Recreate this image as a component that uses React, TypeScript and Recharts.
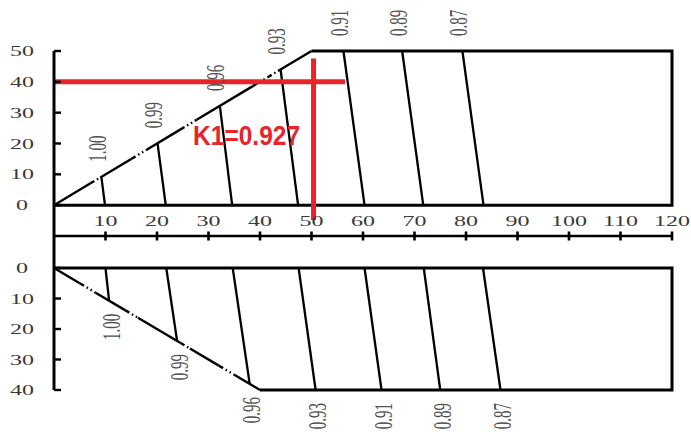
import React from 'react';
import { ComposedChart, Line, XAxis, YAxis, Scatter } from 'recharts';

// K1 curve labels
const kLabels = ['1.00', '0.99', '0.96', '0.93', '0.91', '0.89', '0.87'];
// upper nomogram: curve end points (upper end on the slanted/top edge, lower end on y=0)
const topUpperX = [9.2, 20.1, 32.2, 44, 56.2, 67.6, 79.3];
const topUpperY = [9.2, 20.1, 32.2, 44, 50, 50, 50];
const topLowerX = [9.9, 21.7, 34.6, 47.4, 60.3, 71.7, 83.4];
// lower nomogram: curve end points (upper end on y=0, lower end on slanted/bottom edge)
const bottomUpperX = [10.0, 21.8, 34.7, 47.5, 60.3, 71.8, 83.3];
const bottomLowerX = [10.7, 23.9, 38, 50.8, 63.6, 75.0, 86.7];
const bottomLowerY = [10.7, 23.9, 38, 40, 40, 40, 40];

// axes
const topYTicks = [0, 10, 20, 30, 40, 50];
const bottomYTicks = [0, 10, 20, 30, 40];
const xTicks = [10, 20, 30, 40, 50, 60, 70, 80, 90, 100, 110, 120];

// outlines
const topOutline = [{ x: 50, y: 50 }, { x: 120, y: 50 }, { x: 120, y: 0 }, { x: 0, y: 0 }];
const bottomOutline = [{ x: 40, y: 40 }, { x: 120, y: 40 }, { x: 120, y: 0 }, { x: 0, y: 0 }];
// slanted edge (y = x) with dash-dot stretches
const topDiagEnd = 50;
const topDiagDash = [[7, 9], [15, 18], [24.5, 27.7], [38.6, 43.5]];
const bottomDiagEnd = 40;
const bottomDiagDash = [[5, 8], [13.8, 16.3], [24.5, 26.4], [32, 35]];

// reading lines (red)
const readingVertical = [{ x: 50.4, y: 47.6 }, { x: 50.4, y: -4.8 }];
const readingHorizontal = [{ x: 0, y: 40 }, { x: 56.5, y: 40 }];
const annotation = [{ x: 27, y: 19.5, text: 'K1=0.927' }];

const RED = '#E8232A';
const SERIF = "'Liberation Serif', 'DejaVu Serif', serif";

function diagSegments(end: number, dashes: number[][]) {
  const solid: number[][] = [];
  let prev = 0;
  dashes.forEach(([a, b]) => {
    solid.push([prev, a]);
    prev = b;
  });
  solid.push([prev, end]);
  return solid;
}

function seg(key: string, data: { x: number; y: number }[], stroke: string, width: number, dash?: string) {
  return (
    <Line
      key={key}
      data={data}
      dataKey="y"
      type="linear"
      stroke={stroke}
      strokeWidth={width}
      strokeDasharray={dash}
      dot={false}
      activeDot={false}
      legendType="none"
      isAnimationActive={false}
    />
  );
}

const XTick = (props: any) => {
  const { x, y, payload } = props;
  return (
    <g>
      <line x1={x} x2={x} y1={y - 4.5} y2={y + 4.5} stroke="#000" strokeWidth={2.6} />
      <text
        transform={`translate(${x},${y - 10}) scale(1.6,1)`}
        textAnchor="middle"
        fontFamily={SERIF}
        fontSize={15}
        fill="#3a3a3a"
      >
        {payload.value}
      </text>
    </g>
  );
};

const YTick = (props: any) => {
  const { x, y, payload } = props;
  return (
    <g>
      <line x1={x} x2={x + 7} y1={y} y2={y} stroke="#000" strokeWidth={2.4} />
      <text
        transform={`translate(${x - 32},${y + 5}) scale(1.6,1)`}
        textAnchor="middle"
        fontFamily={SERIF}
        fontSize={15}
        fill="#3a3a3a"
      >
        {payload.value}
      </text>
    </g>
  );
};

const TopLabel = (props: any) => {
  const { cx, cy, payload } = props;
  return (
    <text
      transform={`translate(${cx - 4},${cy - 15}) scale(1.7,1) rotate(-90)`}
      textAnchor="start"
      dominantBaseline="central"
      fontFamily={SERIF}
      fontSize={15}
      fill="#505050"
    >
      {payload.label}
    </text>
  );
};

const BottomLabel = (props: any) => {
  const { cx, cy, payload } = props;
  return (
    <text
      transform={`translate(${cx + 2},${cy + 13}) scale(1.7,1) rotate(-90)`}
      textAnchor="end"
      dominantBaseline="central"
      fontFamily={SERIF}
      fontSize={15}
      fill="#505050"
    >
      {payload.label}
    </text>
  );
};

const AnnotationText = (props: any) => {
  const { cx, cy, payload } = props;
  return (
    <text
      x={cx}
      y={cy}
      textLength={107}
      lengthAdjust="spacingAndGlyphs"
      fontFamily="'Liberation Sans', Arial, sans-serif"
      fontWeight="bold"
      fontSize={27}
      fill={RED}
    >
      {payload.text}
    </text>
  );
};

export default function App() {
  const topSolid = diagSegments(topDiagEnd, topDiagDash);
  const bottomSolid = diagSegments(bottomDiagEnd, bottomDiagDash);
  const topLabelPts = kLabels.map((k, i) => ({ x: topUpperX[i], y: topUpperY[i], label: k }));
  const bottomLabelPts = kLabels.map((k, i) => ({ x: bottomLowerX[i], y: bottomLowerY[i], label: k }));
  const DASH = '5 3 1.5 3 1.5 3';

  return (
    <div style={{ position: 'absolute', left: 0, top: 0, width: 691, height: 432, background: '#fff' }}>
      <div style={{ position: 'absolute', left: 0, top: 0 }}>
        <ComposedChart width={691} height={250} margin={{ top: 51, right: 19, bottom: 0, left: 0 }}>
          <XAxis
            dataKey="x"
            type="number"
            domain={[0, 120]}
            ticks={xTicks}
            interval={0}
            height={14}
            tickSize={0}
            tickMargin={0}
            tickLine={false}
            axisLine={{ stroke: '#000', strokeWidth: 2.6 }}
            tick={<XTick />}
          />
          <YAxis
            dataKey="y"
            type="number"
            domain={[-10, 50]}
            ticks={topYTicks}
            interval={0}
            width={54}
            tickSize={0}
            tickMargin={0}
            tickLine={false}
            axisLine={{ stroke: '#000', strokeWidth: 3 }}
            tick={<YTick />}
          />
          {seg('top-outline', topOutline, '#000', 3)}
          {topSolid.map(([a, b], i) => seg(`ts${i}`, [{ x: a, y: a }, { x: b, y: b }], '#000', 2.4))}
          {topDiagDash.map(([a, b], i) => seg(`td${i}`, [{ x: a, y: a }, { x: b, y: b }], '#000', 2.4, DASH))}
          {kLabels.map((k, i) =>
            seg(`tc${i}`, [{ x: topUpperX[i], y: topUpperY[i] }, { x: topLowerX[i], y: 0 }], '#000', 2.3)
          )}
          <Scatter data={topLabelPts} shape={<TopLabel />} isAnimationActive={false} legendType="none" />
          {seg('red-h', readingHorizontal, RED, 5)}
          {seg('red-v', readingVertical, RED, 5)}
          <Scatter data={annotation} shape={<AnnotationText />} isAnimationActive={false} legendType="none" />
        </ComposedChart>
      </div>
      <div style={{ position: 'absolute', left: 0, top: 236 }}>
        <ComposedChart width={691} height={196} margin={{ top: 0, right: 19, bottom: 42, left: 0 }}>
          <XAxis dataKey="x" type="number" domain={[0, 120]} hide />
          <YAxis
            dataKey="y"
            type="number"
            domain={[-10.5, 40]}
            reversed
            ticks={bottomYTicks}
            interval={0}
            width={54}
            tickSize={0}
            tickMargin={0}
            tickLine={false}
            axisLine={{ stroke: '#000', strokeWidth: 3 }}
            tick={<YTick />}
          />
          {seg('bottom-outline', bottomOutline, '#000', 3)}
          {bottomSolid.map(([a, b], i) => seg(`bs${i}`, [{ x: a, y: a }, { x: b, y: b }], '#000', 2.4))}
          {bottomDiagDash.map(([a, b], i) => seg(`bd${i}`, [{ x: a, y: a }, { x: b, y: b }], '#000', 2.4, DASH))}
          {kLabels.map((k, i) =>
            seg(`bc${i}`, [{ x: bottomUpperX[i], y: 0 }, { x: bottomLowerX[i], y: bottomLowerY[i] }], '#000', 2.3)
          )}
          <Scatter data={bottomLabelPts} shape={<BottomLabel />} isAnimationActive={false} legendType="none" />
        </ComposedChart>
      </div>
    </div>
  );
}
